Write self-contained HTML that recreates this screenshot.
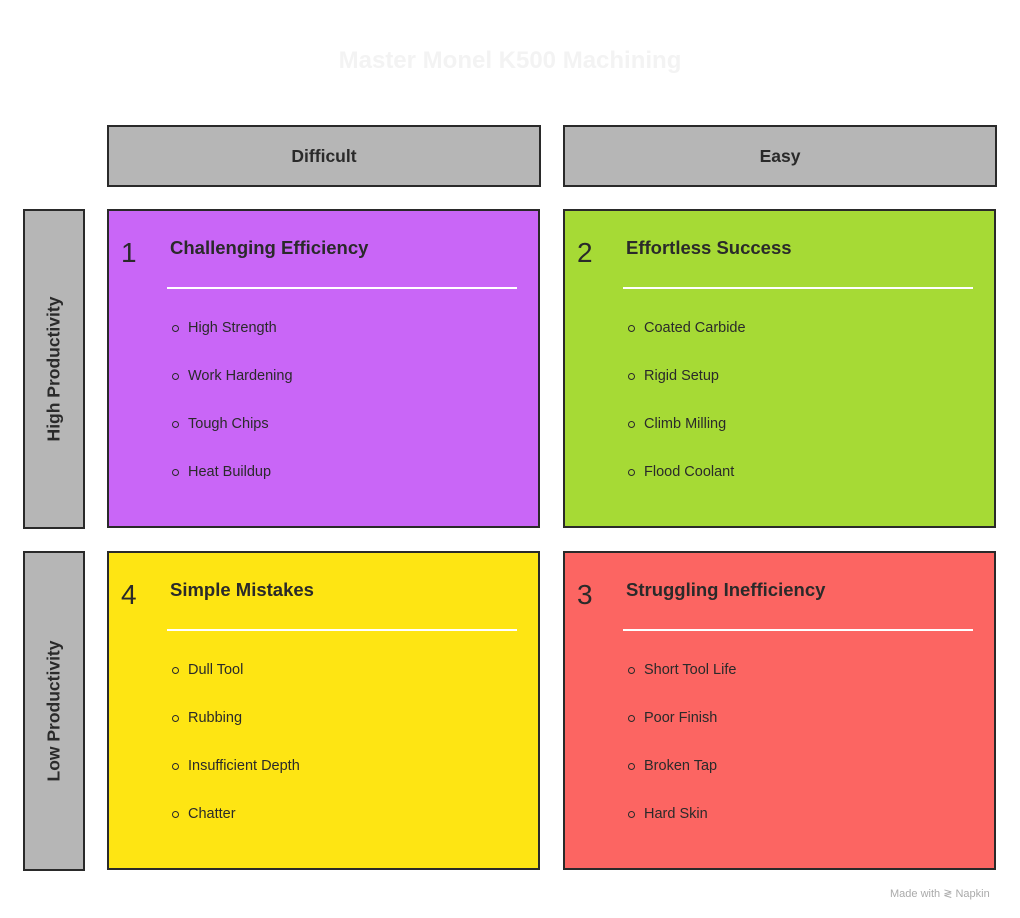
<!DOCTYPE html>
<html><head><style>
body{margin:0;width:1020px;height:918px;background:#fff;position:relative;font-family:"Liberation Sans",sans-serif;overflow:hidden}
.a{position:absolute;box-sizing:border-box}
.hd{border:2px solid #2a2a2a;background:#b6b6b6;display:flex;align-items:center;justify-content:center;font-weight:bold;font-size:17.5px;color:#2a2a2a}
.side span{position:absolute;left:50%;top:50%;transform:translate(-50%,-50%) rotate(-90deg);white-space:nowrap}
.q{border:2px solid #2a2a2a;width:433px;height:319px}
.num{position:absolute;left:12px;top:26px;font-size:28px;color:#2a2a2a}
.tt{position:absolute;left:61px;top:26px;font-size:18.5px;font-weight:bold;color:#2a2a2a}
.ln{position:absolute;left:58px;width:350px;top:76px;height:2px;background:#fff}
.li{position:absolute;left:79px;font-size:14.5px;color:#2a2a2a}
.li:before{content:"";position:absolute;left:-16px;top:5px;width:5px;height:5px;border:1.6px solid #2a2a2a;border-radius:50%}
</style></head><body>
<div class="a" style="left:0;top:47px;width:1020px;text-align:center;font-size:24px;font-weight:bold;color:#f3f3f3">Master Monel K500 Machining</div>
<div class="a hd" style="left:107px;top:125px;width:434px;height:62px">Difficult</div>
<div class="a hd" style="left:563px;top:125px;width:434px;height:62px">Easy</div>
<div class="a hd side" style="left:23px;top:209px;width:62px;height:320px"><span>High Productivity</span></div>
<div class="a hd side" style="left:23px;top:551px;width:62px;height:320px"><span>Low Productivity</span></div>

<div class="a q" style="left:107px;top:209px;background:#c966f7">
<div class="num">1</div><div class="tt">Challenging Efficiency</div><div class="ln"></div>
<div class="li" style="top:109px">High Strength</div><div class="li" style="top:157px">Work Hardening</div><div class="li" style="top:205px">Tough Chips</div><div class="li" style="top:253px">Heat Buildup</div></div>
<div class="a q" style="left:563px;top:209px;background:#a6da35">
<div class="num">2</div><div class="tt">Effortless Success</div><div class="ln"></div>
<div class="li" style="top:109px">Coated Carbide</div><div class="li" style="top:157px">Rigid Setup</div><div class="li" style="top:205px">Climb Milling</div><div class="li" style="top:253px">Flood Coolant</div></div>
<div class="a q" style="left:107px;top:551px;background:#fee513">
<div class="num">4</div><div class="tt">Simple Mistakes</div><div class="ln"></div>
<div class="li" style="top:109px">Dull Tool</div><div class="li" style="top:157px">Rubbing</div><div class="li" style="top:205px">Insufficient Depth</div><div class="li" style="top:253px">Chatter</div></div>
<div class="a q" style="left:563px;top:551px;background:#fc6562">
<div class="num">3</div><div class="tt">Struggling Inefficiency</div><div class="ln"></div>
<div class="li" style="top:109px">Short Tool Life</div><div class="li" style="top:157px">Poor Finish</div><div class="li" style="top:205px">Broken Tap</div><div class="li" style="top:253px">Hard Skin</div></div>
<div class="a" style="left:890px;top:887px;font-size:11px;color:#aaa">Made with ≷ Napkin</div>
</body></html>
